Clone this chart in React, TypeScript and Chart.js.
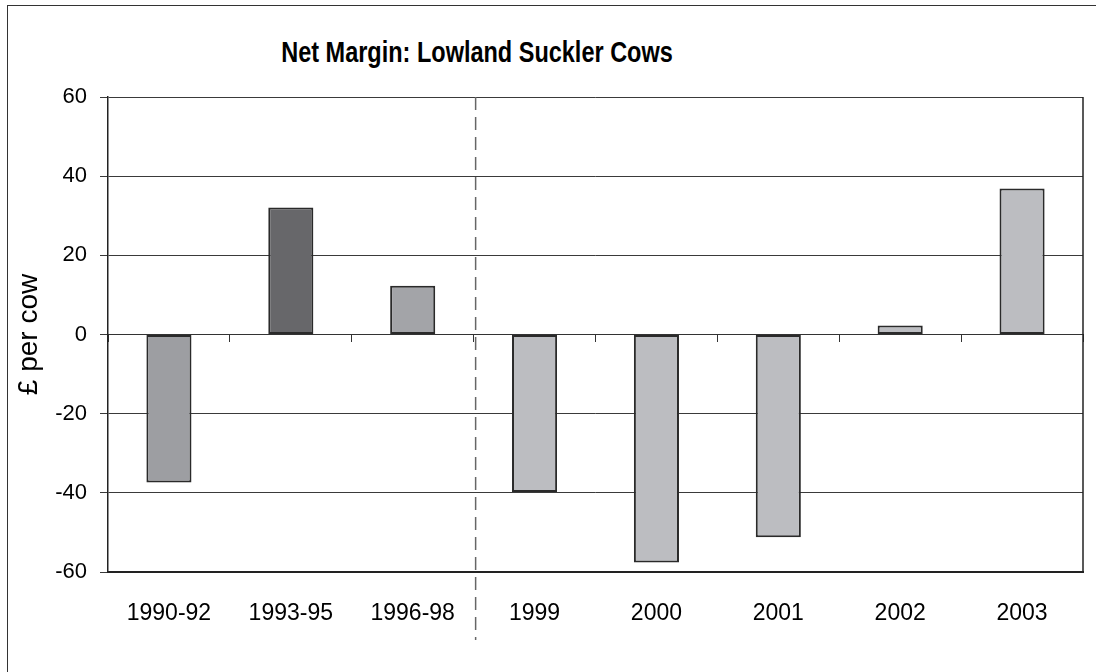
import { useEffect, useRef } from "react";
import { Chart, registerables } from "chart.js";

Chart.register(...registerables);

// -------------------- Datos --------------------
const categorias = ["1990-92", "1993-95", "1996-98", "1999", "2000", "2001", "2002", "2003"];
const margenNeto = [-37.4, 32.1, 12.3, -39.8, -57.6, -51.2, 2.3, 36.9];
const coloresBarras = ["#9d9ea2", "#67676a", "#a3a4a8", "#bcbdc1", "#bcbdc1", "#bcbdc1", "#bcbdc1", "#bcbdc1"];
const yMin = -60;
const yMax = 60;
const yPaso = 20;

const FONT = "'Liberation Sans', Arial, sans-serif";

// línea discontinua entre 1996-98 y 1999 + borde derecho del área
const extras = {
  id: "extras",
  afterDatasetsDraw(chart: any) {
    const { ctx, chartArea, scales } = chart;
    const x = scales.x;
    const xs = (x.getPixelForValue(2) + x.getPixelForValue(3)) / 2 + 2;
    ctx.save();
    ctx.strokeStyle = "#666";
    ctx.lineWidth = 1.5;
    ctx.setLineDash([13, 7]);
    ctx.beginPath();
    ctx.moveTo(xs, chartArea.top);
    ctx.lineTo(xs, chartArea.bottom + 68);
    ctx.stroke();
    ctx.setLineDash([]);
    ctx.strokeStyle = "#222";
    ctx.lineWidth = 1.5;
    ctx.beginPath();
    ctx.moveTo(chartArea.right, chartArea.top);
    ctx.lineTo(chartArea.right, chartArea.bottom);
    ctx.stroke();
    ctx.restore();
  },
};

export default function App() {
  const canvasRef = useRef<HTMLCanvasElement | null>(null);

  useEffect(() => {
    if (!canvasRef.current) return;
    const chart = new Chart(canvasRef.current, {
      type: "bar",
      data: {
        labels: categorias,
        datasets: [
          {
            label: "Net margin",
            data: margenNeto,
            backgroundColor: coloresBarras,
            borderColor: "#2a2a2a",
            borderWidth: 2,
            borderSkipped: false,
            categoryPercentage: 1,
            barPercentage: 0.37,
            xAxisID: "x",
          },
        ],
      },
      options: {
        animation: false,
        responsive: true,
        maintainAspectRatio: false,
        layout: { padding: { top: 97, right: 13, left: 0, bottom: 0 } },
        plugins: { legend: { display: false }, tooltip: { enabled: false }, title: { display: false } },
        scales: {
          x: {
            type: "category",
            position: "bottom",
            offset: true,
            grid: { display: true, drawOnChartArea: false, drawTicks: false },
            border: { display: true, color: "#222", width: 2 },
            ticks: { color: "#000", font: { family: FONT, size: 23 }, padding: 28, maxRotation: 0 },
            afterFit: (s: any) => { s.height = 100; },
          },
          x2: {
            type: "category",
            position: { y: 0 },
            offset: true,
            grid: { offset: true, drawOnChartArea: false, drawTicks: true, tickLength: 7, color: "#333" },
            border: { display: true, color: "#333", width: 1 },
            ticks: { display: false },
          },
          y: {
            min: yMin,
            max: yMax,
            ticks: { stepSize: yPaso, color: "#000", font: { family: FONT, size: 22 }, padding: 13 },
            grid: { color: "#3a3a3a", lineWidth: 1, tickLength: 8, drawTicks: true },
            border: { display: true, color: "#222", width: 1.5 },
            title: {
              display: true,
              text: "£ per cow",
              color: "#000",
              font: { family: FONT, size: 28 },
              padding: { top: 12, bottom: 0 },
            },
            afterFit: (s: any) => { s.width = 108; },
          },
        },
      },
      plugins: [extras],
    });
    return () => { chart.destroy(); };
  }, []);

  return (
    <div style={{ position: "fixed", left: 0, top: 0, width: 1096, height: 672, background: "#fff", overflow: "hidden" }}>
      <div style={{ position: "absolute", left: 7, top: 5, width: 1200, height: 800, borderLeft: "1.5px solid #333", borderTop: "1.5px solid #333" }} />
      <div style={{
        position: "absolute", left: 0, top: 38, width: 954, textAlign: "center",
        fontFamily: FONT, fontWeight: "bold", fontSize: 29, lineHeight: "29px", color: "#000",
        transform: "scaleX(0.81)", transformOrigin: "477px 0",
      }}>Net Margin: Lowland Suckler Cows</div>
      <div style={{ position: "absolute", left: 0, top: 0, width: 1096, height: 672 }}>
        <canvas ref={canvasRef} />
      </div>
    </div>
  );
}
